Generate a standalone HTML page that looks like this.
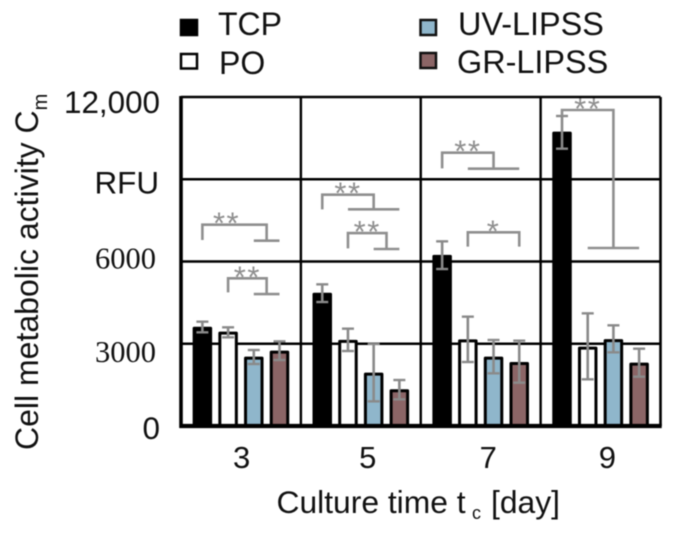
<!DOCTYPE html>
<html lang="en">
<head>
<meta charset="utf-8">
<title>Cell metabolic activity chart</title>
<style>
html,body{margin:0;padding:0;background:#fff;}
body{width:673px;height:534px;overflow:hidden;}
svg{display:block;filter:blur(0.45px);}
text{font-family:"Liberation Sans",sans-serif;fill:#111;}
.serif{font-family:"Liberation Serif",serif;}
</style>
</head>
<body>
<svg id="chart" xmlns="http://www.w3.org/2000/svg" width="673" height="534" viewBox="0 0 673 534">
  <rect x="0" y="0" width="673" height="534" fill="#fff"/>
  <g id="grid"></g>
  <g id="bars"></g>
  <g id="errors"></g>
  <g id="brackets"></g>
  <g id="frame"></g>
  <g id="yticks"></g>
  <g id="xticks"></g>

  <text transform="translate(38 450) rotate(-90)" font-size="32">Cell metabolic activity C<tspan font-size="20" dy="9">m</tspan></text>
  <text x="276.5" y="513" font-size="31.8">Culture time t<tspan font-size="18" x="472" y="519">c</tspan><tspan x="491" y="513">[day]</tspan></text>

  <g>
    <rect x="181" y="20" width="16" height="15" fill="#000" stroke="#000" stroke-width="2.5"/>
    <text x="218" y="35" font-size="32">TCP</text>
    <rect x="181" y="54" width="16" height="14.5" fill="#fff" stroke="#000" stroke-width="2.5"/>
    <text x="219" y="74" font-size="32">PO</text>
    <rect x="420.5" y="20" width="15.5" height="15" fill="#8fb6cb" stroke="#111" stroke-width="2.5"/>
    <text x="458" y="35" font-size="32.4">UV-LIPSS</text>
    <rect x="420.5" y="53" width="15.5" height="15" fill="#8b6566" stroke="#111" stroke-width="2.5"/>
    <text x="457" y="73" font-size="32.4">GR-LIPSS</text>
  </g>
</svg>
<script>
// ---- chart data ----
const categories = ["3", "5", "7", "9"];
const seriesNames = ["TCP", "PO", "UV-LIPSS", "GR-LIPSS"];
const tcpValues = [3620, 4860, 6240, 10735];
const poValues = [3440, 3140, 3160, 2893];
const uvValues = [2530, 1945, 2530, 3170];
const grValues = [2750, 1340, 2335, 2310];
const tcpErrHigh = [3805, 5167, 6735, 11307];
const tcpErrLow = [3416, 4522, 5726, 10115];
const poErrHigh = [3599, 3550, 3988, 4109];
const poErrLow = [3234, 2735, 2334, 1702];
const uvErrHigh = [2772, 2991, 3137, 3672];
const uvErrLow = [2261, 899, 1921, 2687];
const grErrHigh = [3088, 1677, 3112, 2820];
const grErrLow = [2407, 972, 1580, 1799];
const yTickValues = [0, 3000, 6000, 9000, 12000];
const yTickLabels = ["0", "3000", "6000", "RFU", "12,000"];
// Significance brackets, one small array per property (values in RFU, bar slots within a group).
const bracketGroup = [0, 0, 1, 1, 2, 2, 3];
const bracketLeftBar = [0, 1, 0, 1, 0, 1, 0];
const bracketBaseFrom = [2, 2, 1, 2, 1, 3, 1];
const bracketBaseTo = [3, 3, 3, 3, 3, 3, 3];
const bracketTop = [7343, 5386, 8437, 7039, 9969, 7064, 11526];
const bracketLeftEnd = [6784, 4875, 7903, 6480, 9398, 6541, 11307];
const bracketBase = [6760, 4814, 7903, 6456, 9386, 6541, 6492];
const bracketLabels = ["**", "**", "**", "**", "**", "*", "**"];

// ---- layout and scales ----
const values = [tcpValues, poValues, uvValues, grValues];
const errHigh = [tcpErrHigh, poErrHigh, uvErrHigh, grErrHigh];
const errLow = [tcpErrLow, poErrLow, uvErrLow, grErrLow];
const fills = ["#000", "#fff", "#8fb6cb", "#8b6566"];
const plotLeft = 181, plotRight = 660.5, plotTop = 97, plotBottom = 426, yMax = 12000;
const barStep = 25.7, barOuter = 19.5, strokeW = 3;
const yTickNudge = [13, 18, 7, 14, 16];
const yTickRight = [160, 156, 156, 159, 160];
const yTickSerif = [false, true, true, false, false];
const xTickNudge = [0.7, 6.9, 7.5, 6.8];
const starNudge = [-8, 0, 0, 0, 0, 0, 0];
const NS = "http://www.w3.org/2000/svg";
const yScale = v => plotBottom - (v / yMax) * (plotBottom - plotTop);
const groupWidth = () => (plotRight - plotLeft) / categories.length;
const groupCenter = g => plotLeft + (g + 0.5) * groupWidth();
const barCenter = (g, s) => groupCenter(g) + (s - (seriesNames.length - 1) / 2) * barStep;

function make(tag, attrs, parent) {
  const el = document.createElementNS(NS, tag);
  for (const k in attrs) el.setAttribute(k, attrs[k]);
  parent.appendChild(el);
  return el;
}
function line(x1, y1, x2, y2, stroke, w, parent) {
  return make("line", {x1, y1, x2, y2, stroke, "stroke-width": w}, parent);
}
const slug = s => s.toLowerCase();

// ---- grid ----
const gridG = document.getElementById("grid");
yTickValues.slice(1, -1).forEach(v => {
  const el = line(plotLeft, yScale(v), plotRight, yScale(v), "#000", 2.4, gridG);
  
  
});
categories.slice(1).forEach((c, i) => {
  const x = plotLeft + (i + 1) * groupWidth();
  const el = line(x, plotTop, x, plotBottom, "#000", 2.4, gridG);
  
  
});

// ---- bars and error bars ----
const barsG = document.getElementById("bars");
const errG = document.getElementById("errors");
categories.forEach((c, g) => {
  seriesNames.forEach((name, s) => {
    const cx = barCenter(g, s);
    const top = yScale(values[s][g]);
    const bar = make("rect", {
      x: cx - (barOuter - strokeW) / 2,
      y: top + strokeW / 2,
      width: barOuter - strokeW,
      height: Math.max(0, plotBottom - top - strokeW / 2),
      fill: fills[s], stroke: "#000", "stroke-width": strokeW, "stroke-linejoin": "round"
    }, barsG);
    
    

    const hi = yScale(errHigh[s][g]), lo = yScale(errLow[s][g]);
    const eb = make("g", {fill: "none"}, errG);
    
    
    line(cx, hi, cx, lo, "#8a8a8a", 2.6, eb);
    line(cx - 6, hi, cx + 6, hi, "#8a8a8a", 2.4, eb);
    line(cx - 6, lo, cx + 6, lo, "#8a8a8a", 2.4, eb);
  });
});

// ---- significance brackets ----
const brG = document.getElementById("brackets");
bracketGroup.forEach((g, i) => {
  const wrap = make("g", {}, brG);
  
  
  const xL = barCenter(g, bracketLeftBar[i]);
  const xFrom = barCenter(g, bracketBaseFrom[i]);
  const xTo = barCenter(g, bracketBaseTo[i]);
  const xR = (xFrom + xTo) / 2;
  const yT = yScale(bracketTop[i]);
  make("path", {
    d: "M" + xL + " " + yScale(bracketLeftEnd[i]) + " V" + yT + " H" + xR + " V" + yScale(bracketBase[i]),
    fill: "none", stroke: "#8f8f8f", "stroke-width": 2.6
  }, wrap);
  if (xFrom !== xTo) line(xFrom, yScale(bracketBase[i]), xTo, yScale(bracketBase[i]), "#8f8f8f", 2.6, wrap);
  const star = make("text", {
    x: (xL + xR) / 2 + starNudge[i], y: yT + 9, "text-anchor": "middle", "font-size": 31, "letter-spacing": 1.5
  }, wrap);
  star.style.fill = "#8f8f8f";
  star.textContent = bracketLabels[i];
  
  
});

// ---- frame ----
const frameG = document.getElementById("frame");
const frameTop = line(plotLeft, plotTop, plotRight, plotTop, "#000", 2.6, frameG);


const frameRight = line(plotRight, plotTop, plotRight, plotBottom, "#000", 2.6, frameG);


const yAxisLine = line(plotLeft, plotTop - 1, plotLeft, plotBottom + 2, "#000", 3.6, frameG);


const xAxisLine = line(plotLeft - 1.5, plotBottom, plotRight + 1.2, plotBottom, "#000", 4.2, frameG);



// ---- ticks ----
const yG = document.getElementById("yticks");
yTickValues.forEach((v, i) => {
  const t = make("text", {x: yTickRight[i], y: yScale(v) + yTickNudge[i], "text-anchor": "end", "font-size": yTickSerif[i] ? 30.5 : 31.4}, yG);
  if (yTickSerif[i]) t.setAttribute("class", "serif");
  t.textContent = yTickLabels[i];
  
  
});
const xG = document.getElementById("xticks");
categories.forEach((c, g) => {
  const t = make("text", {x: groupCenter(g) + xTickNudge[g], y: 468, "text-anchor": "middle", "font-size": 31}, xG);
  t.textContent = c;
  
  
});
</script>
</body>
</html>
